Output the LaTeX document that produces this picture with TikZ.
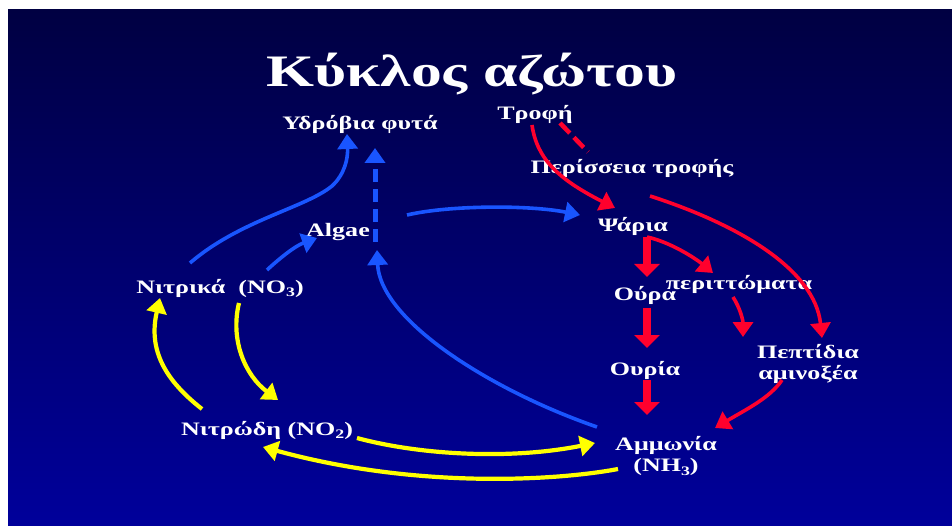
\documentclass[tikz,border=0pt]{standalone}
\usepackage{fontspec}
\setmainfont{Liberation Serif}
\newfontfamily\widefont[FakeStretch=1.37]{Liberation Serif}
\newcommand{\lowsub}[1]{\raisebox{-0.45ex}{\fontsize{13}{13}\selectfont #1}}
\usetikzlibrary{arrows.meta,calc}
\definecolor{bgtop}{RGB}{0,0,66}
\definecolor{bgbot}{RGB}{0,0,155}
\definecolor{ablue}{RGB}{25,85,255}
\definecolor{ared}{RGB}{255,0,45}
\definecolor{ayellow}{RGB}{255,255,0}
\tikzset{
  lbl/.style={text=white,font=\widefont\bfseries\fontsize{19}{21}\selectfont,inner sep=0pt,align=center},
  ttl/.style={text=white,font=\widefont\bfseries\fontsize{45}{50}\selectfont,inner sep=0pt},
  tipA/.style={-{Triangle[width=20pt,length=15pt]}},
  tipB/.style={-{Triangle[width=25pt,length=13pt]}},
  bluearr/.style={ablue,line width=3.6pt,tipA},
  redarr/.style={ared,line width=3.6pt,tipA},
  redthick/.style={ared,line width=7.5pt,tipB},
  yelarr/.style={ayellow,line width=4.2pt,tipA},
}
\begin{document}
\begin{tikzpicture}[x=1pt,y=-1pt]
\useasboundingbox (0,0) rectangle (952,526);
\fill[white] (0,0) rectangle (952,526);
\shade[top color=bgtop,bottom color=bgbot] (8,10) rectangle (952,526);

\node[ttl] (title) at (472,74) {Κύκλος αζώτου};
\node[lbl] (hyd) at (360,124) {Υδρόβια φυτά};
\node[lbl] (trofi) at (535,114) {Τροφή};
\node[lbl] (peris) at (632,168) {Περίσσεια τροφής};
\node[lbl] (algae) at (338,232) {Algae};
\node[lbl] (psaria) at (633,226) {Ψάρια};
\node[lbl] (nitrika) at (220,288) {Νιτρικά\ \ (NO\lowsub{3})};
\node[lbl] (oura) at (645,295) {Ούρα};
\node[lbl] (perit) at (739,284) {περιττώματα};
\node[lbl] (ouria) at (645,370) {Ουρία};
\node[lbl] (pept) at (808,364) {Πεπτίδια\\αμινοξέα};
\node[lbl] (nitrodi) at (267,430) {Νιτρώδη (NO\lowsub{2})};
\node[lbl] (ammonia) at (666,456) {Αμμωνία\\(NH\lowsub{3})};

% blue
\draw[bluearr] ($(nitrika)+(-30,-25)$) .. controls (240,220) and (305,208) .. (332,186)
   .. controls (345,174) and (348,158) .. ($(hyd)+(-13,10)$);
\draw[bluearr] ($(nitrika)+(47,-18)$) .. controls (280,258) and (295,246) .. ($(algae)+(-21,6)$);
\draw[ablue,line width=5pt,dash pattern=on 13pt off 7pt,tipA] ($(algae)+(37,10)$) -- ($(hyd)+(15,24)$);
\draw[bluearr] ($(algae)+(69,-17)$) .. controls (450,205) and (530,205) .. ($(psaria)+(-53,-11)$);
\draw[bluearr] ($(ammonia)+(-69,-29)$) .. controls (490,390) and (380,320) .. ($(algae)+(39,18)$);

% red
\draw[redarr] ($(trofi)+(-3,11)$) .. controls (537,160) and (560,180) .. ($(psaria)+(-18,-18)$);
\draw[ared,line width=4.5pt,dash pattern=on 14pt off 6pt] ($(trofi)+(25,9)$) -- ($(peris)+(-44,-16)$);
\draw[redarr] ($(peris)+(18,28)$) .. controls (740,225) and (815,270) .. ($(pept)+(14,-26)$);
\draw[redthick] ($(psaria)+(14,11)$) -- ($(oura)+(2,-18)$);
\draw[redarr] ($(psaria)+(14,11)$) .. controls (670,242) and (695,258) .. ($(perit)+(-26,-11)$);
\draw[redthick] ($(oura)+(2,13)$) -- ($(ouria)+(2,-22)$);
\draw[redthick] ($(ouria)+(2,10)$) -- ($(ammonia)+(-19,-41)$);
\draw[redarr] ($(perit)+(-6,13)$) .. controls (740,308) and (743,320) .. ($(pept)+(-65,-27)$);
\draw[redarr] ($(pept)+(-26,16)$) .. controls (770,398) and (745,410) .. ($(ammonia)+(49,-28)$);

% yellow
\draw[yelarr] ($(nitrodi)+(-65,-21)$) .. controls (165,380) and (148,350) .. ($(nitrika)+(-60,10)$);
\draw[yelarr] ($(nitrika)+(19,15)$) .. controls (230,340) and (245,375) .. ($(nitrodi)+(11,-30)$);
\draw[yelarr] ($(nitrodi)+(90,8)$) .. controls (420,455) and (510,460) .. ($(ammonia)+(-71,-13)$);
\draw[yelarr] ($(ammonia)+(-48,13)$) .. controls (560,480) and (420,490) .. ($(nitrodi)+(-4,17)$);
\end{tikzpicture}
\end{document}
